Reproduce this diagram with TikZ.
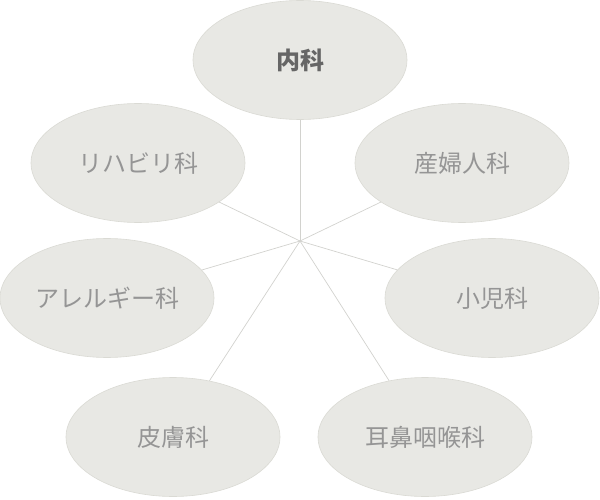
\documentclass[tikz,border=0pt]{standalone}
\usepackage{fontspec}
\setmainfont{Noto Sans CJK JP}
\usepackage{tikz}
\usetikzlibrary{shapes.geometric, positioning, calc}

\definecolor{paper}{HTML}{E8E8E4}
\definecolor{rim}{HTML}{DADAD4}
\definecolor{spoke}{HTML}{D2D2CE}
\definecolor{ink}{HTML}{959595}
\definecolor{darkink}{HTML}{666666}

\begin{document}
\begin{tikzpicture}[
    x=1pt, y=-1pt,
    dept/.style={ellipse, minimum width=214pt, minimum height=119pt, inner sep=0pt, draw=rim, line width=0.6pt, fill=paper, text=ink, font=\fontsize{24}{28}\selectfont},
    maindept/.style={dept, text=darkink, font=\fontsize{24}{28}\selectfont\bfseries},
    line/.style={spoke, line width=0.7pt}
]
\useasboundingbox (0,0) rectangle (600,500);

\coordinate (hub) at (300,241);

\node (naika) [maindept] at (300,60) {内科};
\node (sanfu) [dept] at (462,163) {産婦人科};
\node (shoni) [dept] at (492,298) {小児科};
\node (jibi) [dept] at (425,437) {耳鼻咽喉科};
\node (hifu) [dept] at (173,437) {皮膚科};
\node (allergy) [dept] at (107,298) {アレルギー科};
\node (reha) [dept] at (138,163) {リハビリ科};

\foreach \n in {naika, sanfu, shoni, jibi, hifu, allergy, reha}
    \draw [line] (hub) -- (\n);

\end{tikzpicture}
\end{document}
